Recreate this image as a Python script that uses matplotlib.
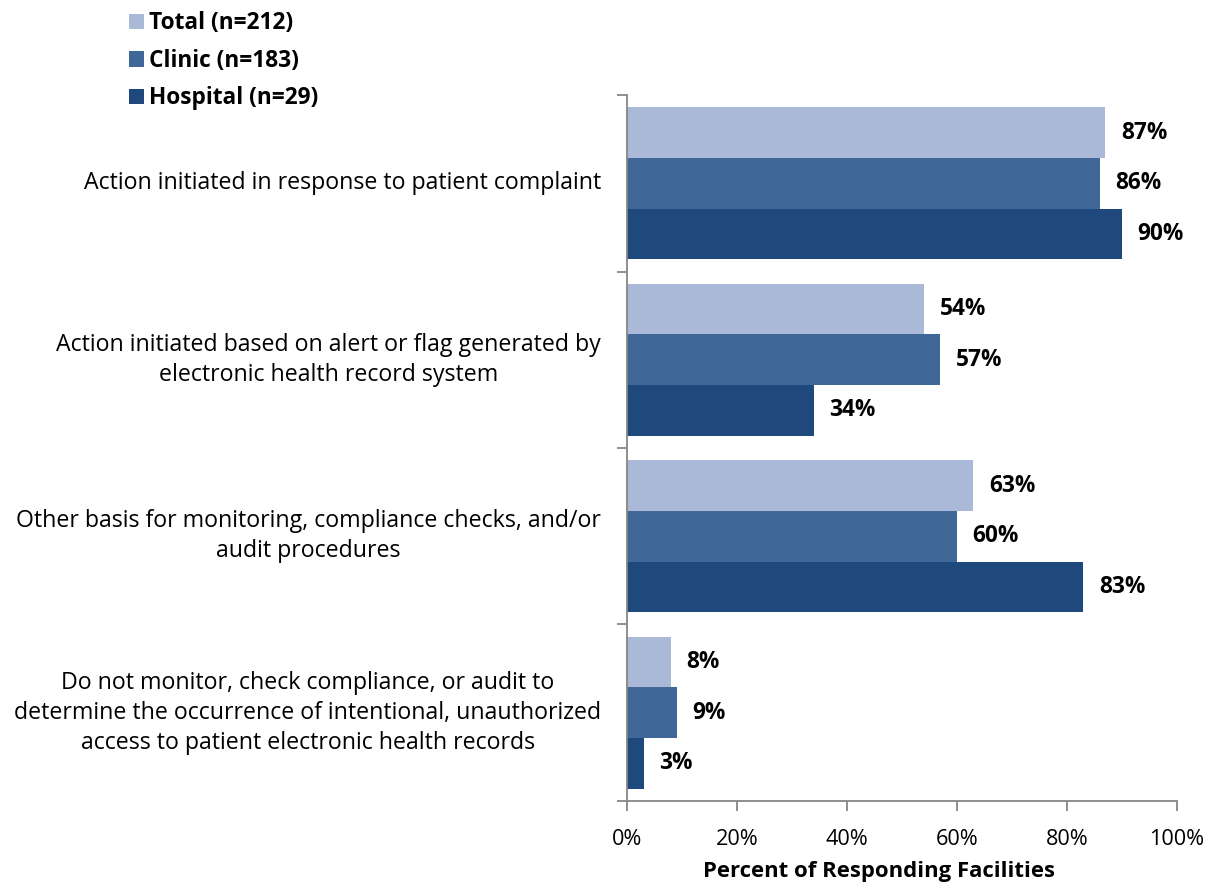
import matplotlib.pyplot as plt
import numpy as np
from matplotlib.patches import Patch

categories = [
    "Action initiated in response to patient complaint",
    "Action initiated based on alert or flag generated by\nelectronic health record system",
    "Other basis for monitoring, compliance checks, and/or\naudit procedures",
    "Do not monitor, check compliance, or audit to\ndetermine the occurrence of intentional, unauthorized\naccess to patient electronic health records",
]
series_names = ["Total (n=212)", "Clinic (n=183)", "Hospital (n=29)"]
total = [87, 54, 63, 8]
clinic = [86, 57, 60, 9]
hospital = [90, 34, 83, 3]

colors = ["#AAB9D7", "#3F6899", "#1F497D"]
plt.rcParams['font.family'] = ['Open Sans', 'DejaVu Sans']

fig = plt.figure(figsize=(12.14, 8.88), dpi=100)
ax = fig.add_axes([0.5165, 0.098, 0.453, 0.795])

n = len(categories)
bar_h = 0.2867
y = np.arange(n)
for i, (vals, col) in enumerate(zip([total, clinic, hospital], colors)):
    pos = y - bar_h + i * bar_h
    ax.barh(pos, vals, height=bar_h, color=col, edgecolor='none')
    for p, v in zip(pos, vals):
        ax.text(v + 2.8, p, f"{v}%", va='center', ha='left',
                fontsize=16.3, fontweight='bold')

ax.set_ylim(n - 0.5, -0.5)
ax.set_xlim(0, 100)
ax.set_xticks(np.arange(0, 101, 20))
ax.set_xticklabels([f"{t}%" for t in range(0, 101, 20)], fontsize=15.6)
ax.set_yticks(np.arange(-0.5, n, 1))
ax.set_yticklabels([])
ax.tick_params(axis='both', direction='out', length=7, color='#868686', width=1.3)
ax.tick_params(axis='x', pad=13)
for s in ['top', 'right']:
    ax.spines[s].set_visible(False)
for s in ['left', 'bottom']:
    ax.spines[s].set_color('#868686')
    ax.spines[s].set_linewidth(1.3)

for yi, lab in zip(y, categories):
    ax.text(-0.047, yi, lab, ha='right', va='center', multialignment='center',
            fontsize=16.7, linespacing=1.33, transform=ax.get_yaxis_transform())

ax.set_xlabel("Percent of Responding Facilities", fontsize=15.9, fontweight='bold')
ax.xaxis.set_label_coords(0.458, -0.085)

handles = [Patch(facecolor=c, edgecolor='none') for c in colors]
fig.legend(handles, series_names, loc='upper left', bbox_to_anchor=(0.097, 1.0),
           frameon=False, prop={'weight': 'bold', 'size': 16.3},
           handlelength=0.65, handleheight=0.65, handletextpad=0.25,
           labelspacing=0.6, borderaxespad=0.1)

fig.savefig("out.png", dpi=100)
